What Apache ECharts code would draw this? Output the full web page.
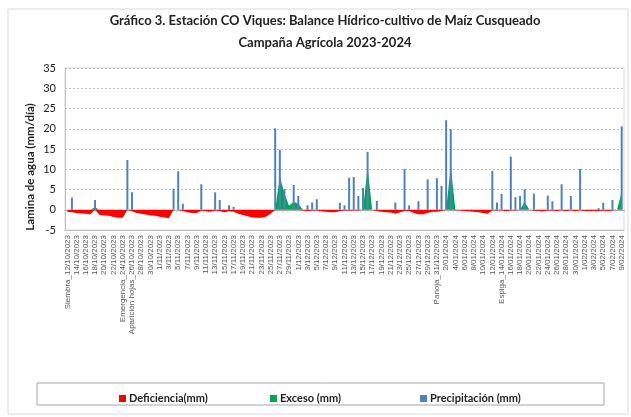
<!DOCTYPE html>
<html>
<head>
<meta charset="utf-8">
<script src="https://cdn.jsdelivr.net/npm/echarts@6/dist/echarts.min.js"></script>
<style>
  html, body { margin: 0; padding: 0; background: #fff; }
  #chart { width: 631px; height: 417px; }
</style>
</head>
<body>
<div id="chart"></div>
<script>
// fechas diarias 12/10/2023 -> 9/02/2024
const startDate = new Date(2023, 9, 12)
const dayCount  = 121
const stageLabels = { 0: 'Siembra_', 12: 'Emergencia_', 14: 'Aparición hojas_', 80: 'Panoja_', 94: 'Espiga_' }

const categories = []
for (let i = 0; i < dayCount; i++) {
  const d = new Date(startDate.getFullYear(), startDate.getMonth(), startDate.getDate() + i)
  const mm = String(d.getMonth() + 1).padStart(2, '0')
  categories.push((stageLabels[i] || '') + d.getDate() + '/' + mm + '/' + d.getFullYear())
}

const yTicks = [-5, 35, 5]   // min, max, intervalo

const precipitacion = [
  0, 3.0, 0, 0, 0, 0, 2.4, 0, 0, 0,
  0, 0, 0, 12.3, 4.3, 0, 0, 0, 0, 0,
  0, 0, 0, 5.2, 9.5, 1.5, 0, 0, 0, 6.3,
  0, 0, 4.3, 2.4, 0, 1.1, 0.7, 0, 0, 0,
  0, 0, 0, 0, 0, 20.1, 14.8, 5.1, 0, 6.1,
  3.4, 0, 1.1, 1.8, 2.6, 0, 0, 0, 0, 1.7,
  1.1, 7.9, 8.1, 3.4, 5.4, 14.3, 0, 2.2, 0, 0,
  0, 1.8, 0, 10.1, 1.1, 0, 2.1, 0, 7.5, 0,
  7.8, 5.9, 22.1, 19.9, 0, 0, 0, 0, 0, 0,
  0, 0, 9.6, 1.8, 3.9, 0, 13.1, 3.1, 3.4, 5.1,
  0, 4.0, 0, 0, 3.5, 2.1, 0, 6.3, 0, 3.4,
  0, 10.1, 0, 0, 0, 0.4, 1.7, 0, 2.4, 0,
  20.6
]

const deficiencia = [
  -0.5, -0.6, -0.8, -0.9, -1.0, -1.1, 0, -1.3, -1.4, -1.5,
  -1.8, -2.0, -2.0, 0, -0.4, -0.8, -1.0, -1.2, -1.4, -1.5,
  -1.7, -1.9, -2.1, 0, 0, -0.3, -0.6, -0.8, -0.8, -0.2,
  -0.4, -0.5, -0.2, -0.3, -0.6, -0.4, -0.5, -1.0, -1.3, -1.6,
  -1.9, -2.0, -2.0, -1.7, -1.0, 0, 0, 0, 0, 0,
  0, -0.2, -0.3, -0.2, -0.2, -0.4, -0.5, -0.6, -0.6, -0.3,
  -0.2, -0.2, -0.2, -0.2, 0, 0, 0, -0.3, -0.5, -0.6,
  -0.7, -1.0, -0.6, -0.3, -0.3, -0.8, -1.1, -1.1, -0.8, -0.5,
  -0.5, -0.3, 0, 0, -0.1, -0.2, -0.3, -0.4, -0.5, -0.6,
  -0.8, -1.0, -0.1, -0.2, -0.1, -0.4, -0.1, -0.2, 0, 0,
  0, -0.2, -0.3, -0.4, -0.2, -0.2, -0.3, -0.1, -0.3, -0.1,
  -0.4, -0.1, -0.3, -0.3, -0.3, -0.3, -0.2, -0.3, -0.2, 0,
  0
]

const exceso = [
  0, 0, 0, 0, 0, 0, 0.6, 0, 0, 0,
  0, 0, 0, 0, 0, 0, 0, 0, 0, 0,
  0, 0, 0, 0, 0, 0, 0, 0, 0, 0,
  0, 0, 0, 0, 0, 0, 0, 0, 0, 0,
  0, 0, 0, 0, 0, 0, 8.2, 4.0, 1.0, 2.0,
  1.5, 0, 0, 0, 0, 0, 0, 0, 0, 0,
  0, 0, 0, 0, 0, 10.5, 0, 0, 0, 0,
  0, 0, 0, 0, 0, 0, 0, 0, 0, 0,
  0, 0, 0, 10.8, 0, 0, 0, 0, 0, 0,
  0, 0, 0, 0, 0, 0, 0, 0, 0, 2.0,
  0, 0, 0, 0, 0, 0, 0, 0, 0, 0,
  0, 0, 0, 0, 0, 0, 0, 0, 0, 0,
  4.5
]

const RED   = '#FF0000'
const GREEN = '#00A651'
const BLUE  = '#4F81BD'
const FONT  = 'Lato, "Liberation Sans", sans-serif'

const chart = echarts.init(document.getElementById('chart'), null, { renderer: 'canvas' })

function legendItem(name, left) {
  return {
    data: [name],
    left: left, top: 388,
    icon: 'rect', itemWidth: 7, itemHeight: 7, itemGap: 0,
    textStyle: { fontSize: 11, fontWeight: 'bold', color: '#222', fontFamily: FONT, padding: [0, 0, 0, -2] },
    selectedMode: false
  }
}

chart.setOption({
  backgroundColor: '#fff',
  animation: false,
  graphic: [
    { type: 'rect', shape: { x: 8, y: 9, width: 620, height: 405 }, style: { fill: 'none', stroke: '#d9d9d9', lineWidth: 1 }, z: -1 },
    { type: 'rect', shape: { x: 37, y: 383, width: 567, height: 22 }, style: { fill: 'none', stroke: '#a6a6a6', lineWidth: 1 } },
    { type: 'text', x: 325, y: 14, style: { text: 'Gráfico 3. Estación CO Viques: Balance Hídrico-cultivo de Maíz Cusqueado', font: 'bold 13px ' + FONT, fill: '#222', textAlign: 'center' } },
    { type: 'text', x: 325, y: 36, style: { text: 'Campaña Agrícola 2023-2024', font: 'bold 13px ' + FONT, fill: '#222', textAlign: 'center' } },
    { type: 'text', x: 30, y: 167, rotation: Math.PI / 2, style: { text: 'Lamina de agua (mm/día)', font: 'bold 11.5px ' + FONT, fill: '#222', textAlign: 'center', textVerticalAlign: 'middle' } }
  ],
  legend: [
    legendItem('Deficiencia(mm)', 114),
    legendItem('Exceso (mm)', 265),
    legendItem('Precipitación (mm)', 415)
  ],
  grid: { left: 65, right: 7, top: 68, bottom: 187, show: true, borderColor: '#d9d9d9', borderWidth: 1 },
  xAxis: [
    {
      type: 'category', data: categories, boundaryGap: true,
      axisLine: { onZero: false, lineStyle: { color: '#bfbfbf' } },
      axisTick: { show: false },
      axisLabel: { interval: 1, rotate: 90, fontSize: 8, color: '#595959', margin: 5, fontFamily: '"Liberation Sans", sans-serif' }
    },
    {
      type: 'category', data: categories, boundaryGap: true, position: 'bottom',
      axisLine: { onZero: true, lineStyle: { color: '#a6a6a6' } },
      axisTick: { show: true, interval: 0, length: 2, lineStyle: { color: '#bfbfbf' } },
      axisLabel: { show: false }
    }
  ],
  yAxis: {
    type: 'value', min: yTicks[0], max: yTicks[1], interval: yTicks[2],
    axisLine: { show: true, lineStyle: { color: '#bfbfbf' } },
    axisTick: { show: false },
    axisLabel: { fontSize: 11, color: '#222', margin: 9, fontFamily: FONT },
    splitLine: { lineStyle: { color: '#bfbfbf', type: [2, 2] } }
  },
  series: [
    {
      name: 'Deficiencia(mm)', type: 'line', data: deficiencia,
      symbol: 'none', lineStyle: { width: 0 }, itemStyle: { color: RED },
      areaStyle: { color: RED, opacity: 1 }, z: 2
    },
    {
      name: 'Exceso (mm)', type: 'line', data: exceso,
      symbol: 'none', lineStyle: { width: 0 }, itemStyle: { color: GREEN },
      areaStyle: { color: GREEN, opacity: 1 }, z: 2
    },
    {
      name: 'Precipitación (mm)', type: 'bar', data: precipitacion,
      barWidth: 2, itemStyle: { color: BLUE }, z: 3
    }
  ]
})
</script>
</body>
</html>
